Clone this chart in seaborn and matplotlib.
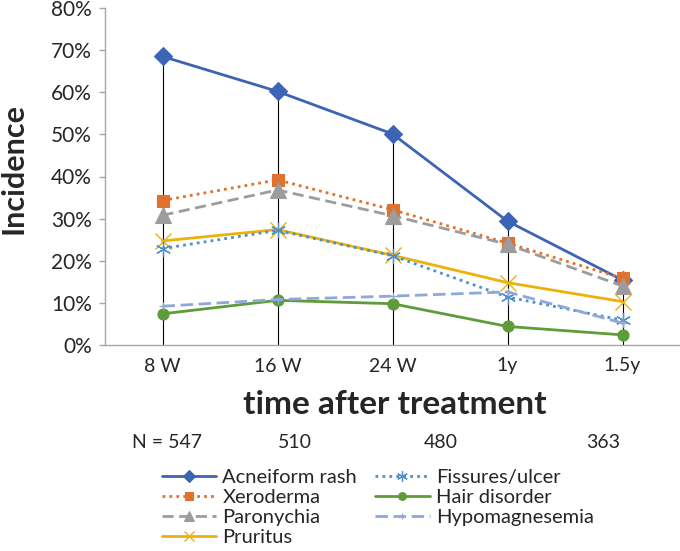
import numpy as np
import pandas as pd
import matplotlib
matplotlib.use("Agg")
import matplotlib.pyplot as plt
import seaborn as sns
from matplotlib.ticker import PercentFormatter

# ---- data ----
timepoints = ["8 W", "16 W", "24 W", "1y", "1.5y"]
n_labels = ["N = 547", "510", "480", "363"]
acneiform = [68.5, 60.2, 50.1, 29.4, 15.4]
xeroderma = [34.3, 39.2, 32.1, 24.2, 15.8]
paronychia = [30.8, 36.8, 30.7, 23.9, 14.0]
pruritus = [24.7, 27.4, 21.3, 14.8, 10.3]
fissures = [22.9, 27.2, 21.2, 11.4, 5.9]
hair = [7.4, 10.6, 9.8, 4.4, 2.4]
hypomag = [9.2, 10.8, 11.6, 12.6, 5.2]

series_names = ["Acneiform rash", "Xeroderma", "Paronychia", "Pruritus",
                "Fissures/ulcer", "Hair disorder", "Hypomagnesemia"]
series_values = [acneiform, xeroderma, paronychia, pruritus, fissures, hair, hypomag]

styles = {
    "Acneiform rash": dict(color="#3C64B4", marker="D", ms=9, ls="-", lw=2.0),
    "Xeroderma": dict(color="#E0722F", marker="s", ms=8.5, ls=(0, (1, 1.5)), lw=2.0),
    "Paronychia": dict(color="#9C9C9C", marker="^", ms=11, ls=(0, (4, 2)), lw=2.0),
    "Pruritus": dict(color="#EDB10C", marker="x", ms=11, ls="-", lw=2.0, mew=1.0),
    "Fissures/ulcer": dict(color="#4F8FCE", marker=(6, 2, 0), ms=11, ls=(0, (1, 1.5)), lw=2.0, mew=0.9),
    "Hair disorder": dict(color="#5E9C3A", marker="o", ms=8, ls="-", lw=2.0),
    "Hypomagnesemia": dict(color="#8EA8DA", marker="+", ms=6, ls=(0, (4.5, 2)), lw=2.0, mew=0.9),
}

rows = []
for name, vals in zip(series_names, series_values):
    for t, v in zip(timepoints, vals):
        rows.append({"time": t, "series": name, "value": v})
df = pd.DataFrame(rows)

sns.set_style("white")
plt.rcParams["font.family"] = ["Lato", "DejaVu Sans"]

fig = plt.figure(figsize=(6.8, 5.51), dpi=100)
ax = fig.add_axes([105 / 680, 1 - 345 / 551, 1 - 105 / 680, (345 - 8) / 551])

# high-low lines
maxvals = df.groupby("time", sort=False)["value"].max()
ax.vlines(list(maxvals.index), 0, maxvals.values, color="black", lw=0.8, zorder=1)

for name in series_names:
    st = styles[name]
    sub = df[df["series"] == name]
    sns.lineplot(data=sub, x="time", y="value", ax=ax, color=st["color"],
                 marker=st["marker"], markersize=st["ms"], linestyle=st["ls"],
                 linewidth=st["lw"], markeredgecolor=st["color"],
                 markerfacecolor=st["color"],
                 markeredgewidth=st.get("mew", 0.8), label=name, legend=False,
                 zorder=3)

ax.set_xlim(-0.5, 4.5)
ax.set_ylim(0, 80)
ax.set_yticks(np.arange(0, 81, 10))
ax.yaxis.set_major_formatter(PercentFormatter(decimals=0))
ax.set_xlabel("")
ax.set_ylabel("")
for s in ["top", "right"]:
    ax.spines[s].set_visible(False)
for s in ["left", "bottom"]:
    ax.spines[s].set_color("#A6A6A6")
    ax.spines[s].set_linewidth(1.0)
ax.tick_params(axis="y", length=4.5, width=1.0, color="#A6A6A6", pad=5,
               labelsize=15, left=True)
ax.tick_params(axis="x", length=0, pad=9, labelsize=14)

fig.text(14 / 680, 1 - 169 / 551, "Incidence", rotation=90, ha="center",
         va="center", fontsize=22, fontweight="bold")
fig.text(395 / 680, 1 - 405 / 551, "time after treatment", ha="center",
         va="center", fontsize=24, fontweight="bold")

n_x = [167, 295, 441, 603]
for x, lab in zip(n_x, n_labels):
    fig.text(x / 680, 1 - 442 / 551, lab, ha="center", va="center", fontsize=14)

handles, labels = [], []
for line, name in zip(ax.get_lines()[-len(series_names):], series_names):
    handles.append(line)
    labels.append(name)
leg = fig.legend(handles, labels, ncol=2, loc="upper left",
                 bbox_to_anchor=(162 / 680, 1 - 469 / 551), frameon=False,
                 fontsize=14.5, handlelength=2.7, handletextpad=0.3,
                 columnspacing=0.9, labelspacing=0.15, borderpad=0,
                 borderaxespad=0, markerscale=0.7)

fig.savefig("out.png", dpi=100)
